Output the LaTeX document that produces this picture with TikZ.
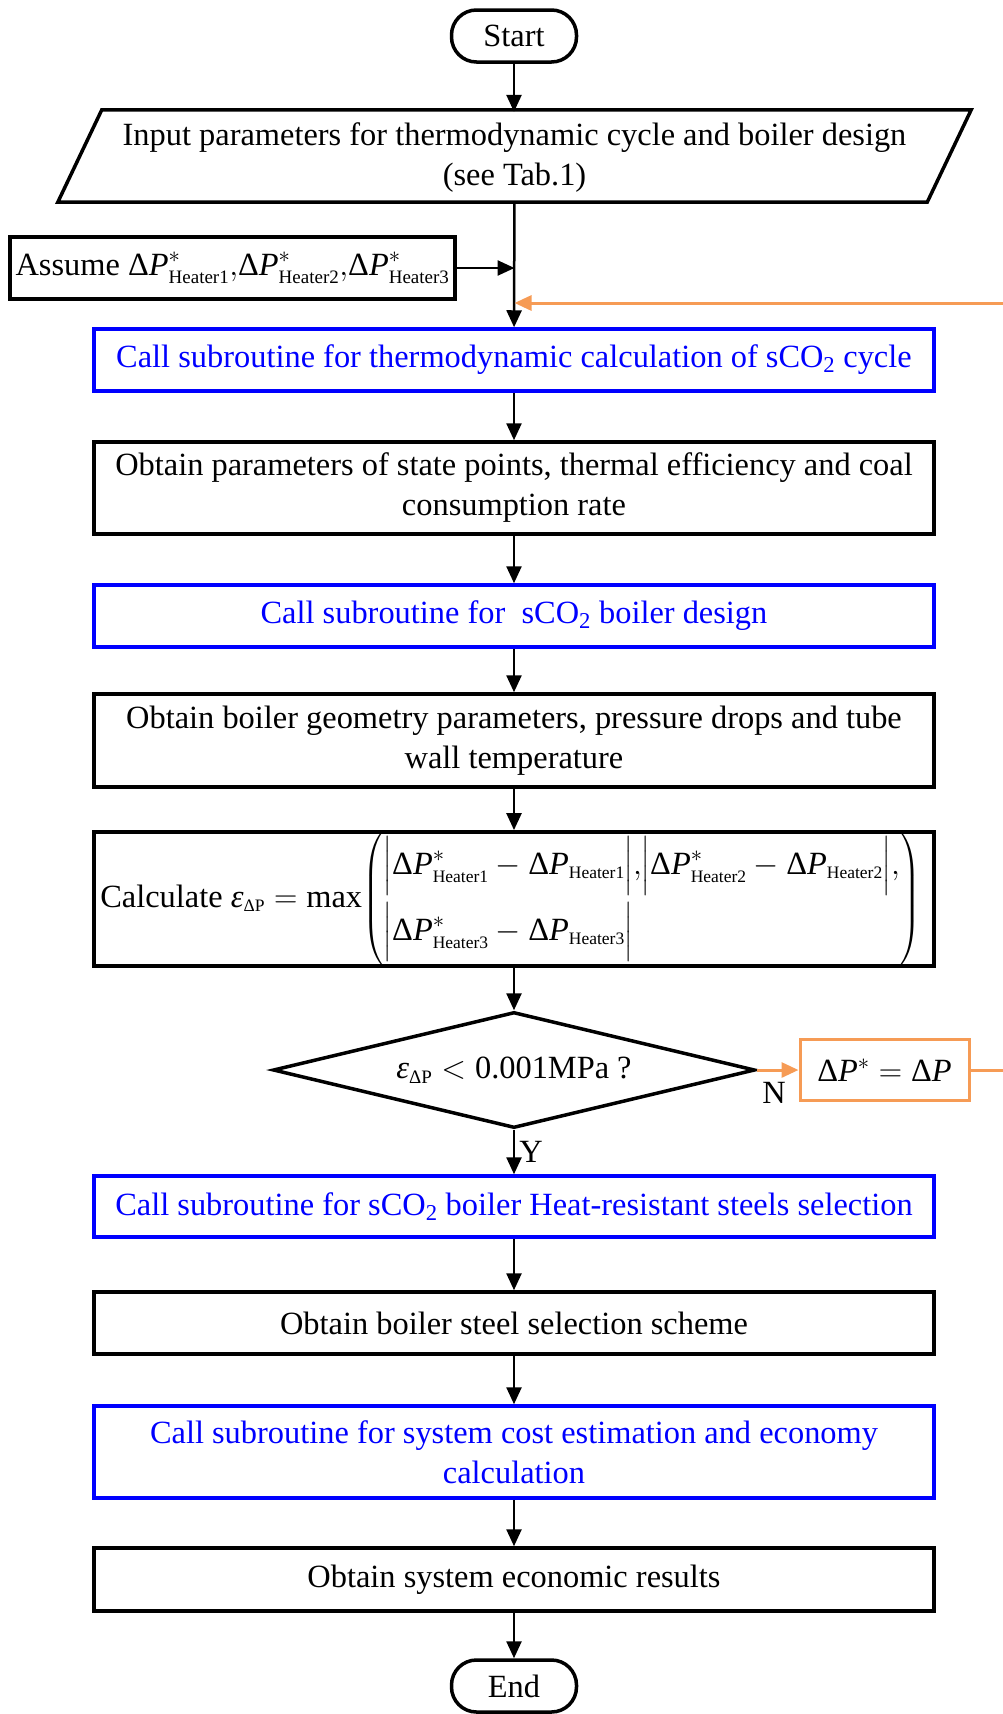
\RequirePackage{fix-cm}
\documentclass[tikz,border=0pt]{standalone}
\usepackage{amsmath}
\usepackage{fontspec}
\setmainfont{Liberation Serif}
\usetikzlibrary{shapes.geometric,arrows.meta,calc}
\definecolor{fborange}{RGB}{246,155,85}
\definecolor{cblue}{RGB}{0,0,255}
\newcommand{\dP}{\text{Δ}\textit{P}}
\newcommand{\sbx}[1]{\text{\fontsize{19}{19}\selectfont #1}}
\newcommand{\sby}[1]{\text{\fontsize{17.5}{18}\selectfont #1}}
\begin{document}
\begin{tikzpicture}[x=1pt,y=-1pt,
  font=\fontsize{32.4}{40}\selectfont,
  >={Triangle[length=17pt,width=15pt]},
  conn/.style={line width=2.5pt,->},
  fbconn/.style={line width=3pt,draw=fborange,->},
  box/.style={draw,line width=3.5pt,minimum width=840pt,inner sep=0pt,align=center},
  bbox/.style={box,draw=cblue,text=cblue},
  term/.style={draw,line width=3.5pt,rounded corners=25pt,minimum width=125pt,minimum height=52pt,inner sep=0pt}]
\useasboundingbox (0,0) rectangle (1003,1714);

\node[term] (start) at (514,36) {Start};
\node[minimum width=869pt,minimum height=92pt,inner sep=0pt,align=center] (input) at (514.5,158)
  {Input parameters for thermodynamic cycle and boiler design\\(see Tab.1)};
\draw[line width=3.5pt] ($(input.north west)+(22,-2)$) -- ($(input.north east)+(22,-2)$)
  -- ($(input.south east)+(-22,-2)$) -- ($(input.south west)+(-22,-2)$) -- cycle;

\node[box,minimum width=445pt,minimum height=62pt] (assume) at (232.5,268)
  {Assume $\dP^{*}_{\sbx{Heater1}}{,}\dP^{*}_{\sbx{Heater2}}{,}\dP^{*}_{\sbx{Heater3}}$};

\node[bbox,minimum height=62pt] (call1) at (514,360)
  {Call subroutine for thermodynamic calculation of sCO\textsubscript{2} cycle};
\node[box,minimum height=92pt] (ob1) at (514,488)
  {Obtain parameters of state points, thermal efficiency and coal\\consumption rate};
\node[bbox,minimum height=62pt] (call2) at (514,616)
  {Call subroutine for \ sCO\textsubscript{2} boiler design};
\node[box,minimum height=93pt] (ob2) at (514,740.5)
  {Obtain boiler geometry parameters, pressure drops and tube\\wall temperature};
\node[box,minimum height=130pt] (calc) at (514,899)
  {Calculate\ $\text{\itshape ε}_{\sby{ΔP}}=\text{max}\!\left(\begin{array}{@{}l@{}}
   \Big|\dP^{*}_{\sby{Heater1}}-\dP_{\sby{Heater1}}\Big|{,}\Big|\dP^{*}_{\sby{Heater2}}-\dP_{\sby{Heater2}}\Big|{,}\\[16pt]
   \Big|\dP^{*}_{\sby{Heater3}}-\dP_{\sby{Heater3}}\Big|
   \end{array}\right)$\hspace*{6pt}};
\node[diamond,draw,line width=3.5pt,minimum width=482pt,minimum height=116pt,inner sep=0pt,aspect=4.16] (dec) at (514,1070)
  {$\text{\itshape ε}_{\sbx{ΔP}}<\text{0.001MPa ?}$};
\node[draw=fborange,line width=3pt,minimum width=169pt,minimum height=61pt,inner sep=0pt] (dp) at (884.5,1070)
  {$\dP^{*}=\dP$};
\node[bbox,minimum height=61pt] (call3) at (514,1206.5)
  {Call subroutine for sCO\textsubscript{2} boiler Heat-resistant steels selection};
\node[box,minimum height=62pt] (ob3) at (514,1323)
  {Obtain boiler steel selection scheme};
\node[bbox,minimum height=92pt] (call4) at (514,1452)
  {Call subroutine for system cost estimation and economy\\calculation};
\node[box,minimum height=63pt] (ob4) at (514,1579.5)
  {Obtain system economic results};
\node[term] (end) at (514,1686) {End};

\coordinate (fbr) at (1012,303);

\draw[conn] (start) -- (start |- input.north);
\draw[conn] (input) -- (call1);
\draw[conn] (assume.east) -- (assume.east -| input.south);
\draw[fbconn] (dp.east) -| (fbr) -- (fbr -| input.south);
\draw[conn] (call1) -- (ob1);
\draw[conn] (ob1) -- (call2);
\draw[conn] (call2) -- (ob2);
\draw[conn] (ob2) -- (calc);
\draw[conn] (calc) -- (dec);
\draw[conn] (dec) -- (call3);
\draw[fbconn] (dec.east) -- (dp.west);
\draw[conn] (call3) -- (ob3);
\draw[conn] (ob3) -- (call4);
\draw[conn] (call4) -- (ob4);
\draw[conn] (ob4) -- (end);

\node (ylab) at (531,1152) {Y};
\node (nlab) at (774,1093) {N};
\end{tikzpicture}
\end{document}
